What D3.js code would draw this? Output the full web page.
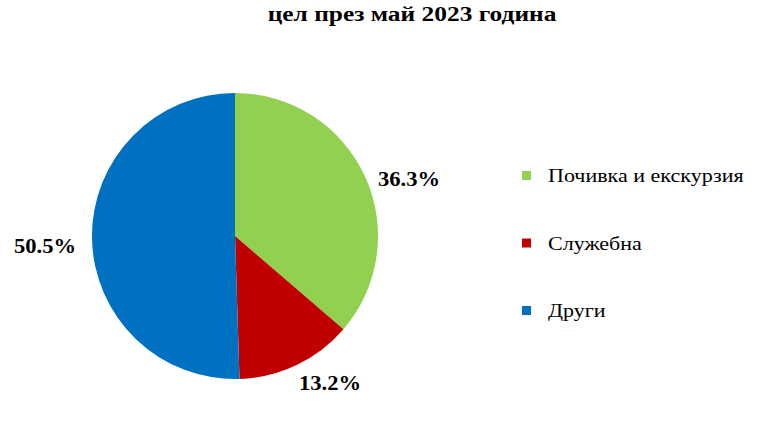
<!DOCTYPE html>
<html>
<head>
<meta charset="utf-8">
<script src="https://cdn.jsdelivr.net/npm/d3@7"></script>
<style>
  body { margin: 0; background: #fff; }
  text { font-family: "Liberation Serif", "Times New Roman", serif; fill: #000; }
</style>
</head>
<body>
<script>
'use strict';

const categories = ['Почивка и екскурзия', 'Служебна', 'Други']
const values = [36.3, 13.2, 50.5]
const colors = ['#92D050', '#C00000', '#0070C0']
const labelPos = [[409, 179], [330, 383], [45, 246]] // label anchor points

const m = { width: 768, height: 432 }
const cx = 235, cy = 236, r = 143
const stretch = 1.13 // the original text looks a bit wide

const svg = d3.select('body')
  .append('svg')
  .attr('width', m.width)
  .attr('height', m.height)

// title (first line is cut off in the original)
svg.append('g')
  .attr('transform', 'translate(412, 21)scale(1.27,1)')
  .append('text')
    .attr('text-anchor', 'middle')
    .style('font-size', '20px')
    .style('font-weight', 'bold')
    .text('цел през май 2023 година')

const pie = d3.pie().sort(null).value((d) => d)
const arc = d3.arc().innerRadius(0).outerRadius(r)

const g = svg.append('g').attr('transform', 'translate(' + cx + ',' + cy + ')')

g.selectAll('path')
  .data(pie(values))
  .enter()
  .append('path')
    .attr('d', arc)
    .style('fill', (d, i) => colors[i])

// percentage labels
svg.selectAll('.pct')
  .data(values)
  .enter()
  .append('g')
    .attr('class', 'pct')
    .attr('transform', (d, i) => 'translate(' + labelPos[i][0] + ',' + labelPos[i][1] + ')scale(' + stretch + ',1)')
  .append('text')
    .attr('text-anchor', 'middle')
    .attr('dominant-baseline', 'central')
    .style('font-size', '20px')
    .style('font-weight', 'bold')
    .text((d) => d.toFixed(1) + '%')

// legend
const legendY = d3.scalePoint().domain(categories).range([175, 310])

const legend = svg.selectAll('.legend')
  .data(categories)
  .enter()
  .append('g')
    .attr('class', 'legend')
    .attr('transform', (d) => 'translate(522,' + legendY(d) + ')')

legend.append('rect')
  .attr('x', 0)
  .attr('y', -4)
  .attr('width', 9)
  .attr('height', 9)
  .style('fill', (d, i) => colors[i])

legend.append('text')
  .attr('transform', 'translate(26,0)scale(' + stretch + ',1)')
  .attr('dominant-baseline', 'central')
  .style('font-size', '19.5px')
  .text((d) => d)
</script>
</body>
</html>
